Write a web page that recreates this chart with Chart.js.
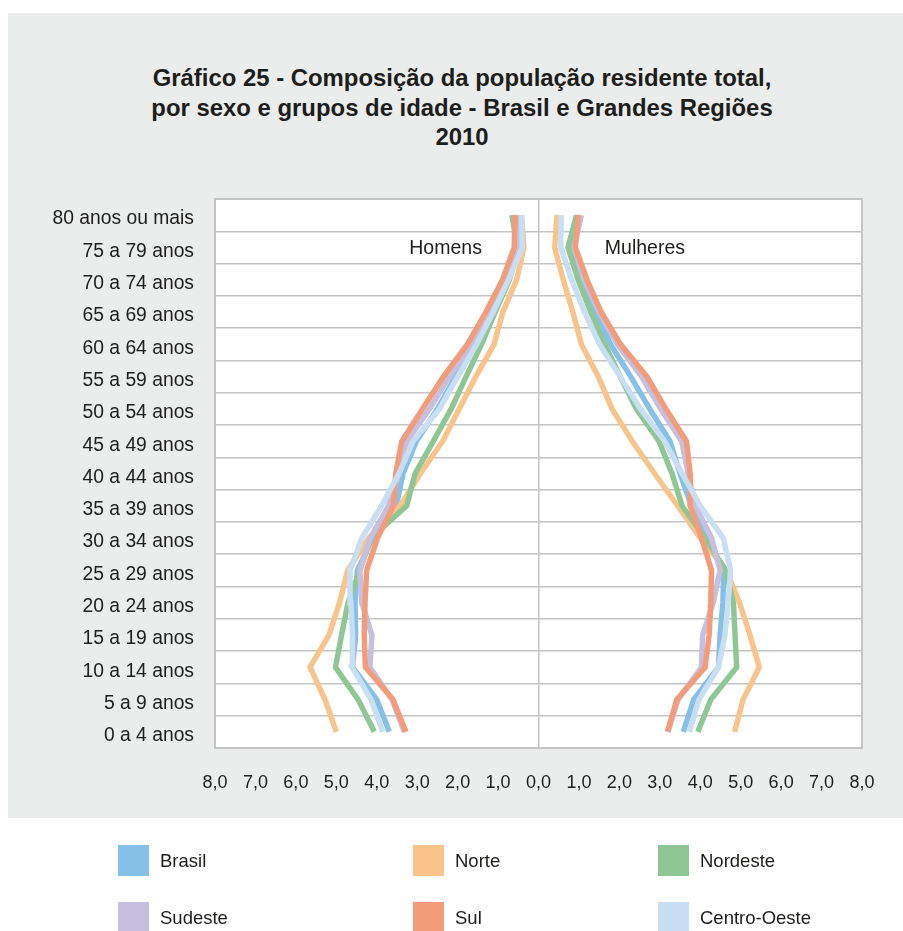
<!DOCTYPE html>
<html lang="pt-BR">
<head>
<meta charset="utf-8">
<script src="https://cdn.jsdelivr.net/npm/chart.js@4/dist/chart.umd.min.js"></script>
<style>
  html, body { margin: 0; padding: 0; background: #ffffff; }
  body { width: 903px; height: 931px; position: relative; overflow: hidden; font-family: "Liberation Sans", Arial, sans-serif; color: #1d1d1b; }
  #panel { position: absolute; left: 8px; top: 13px; width: 895px; height: 805px; background: #ebecec; }
  #title { position: absolute; left: 142px; width: 640px; top: 63px; text-align: center; font-weight: bold; font-size: 23.9px; line-height: 29.5px; white-space: nowrap; }
  #wrap { position: absolute; left: 0; top: 0; width: 903px; height: 931px; }
  .leg { position: absolute; display: flex; align-items: center; font-size: 18.5px; white-space: nowrap; }
  .leg span.box { display: inline-block; width: 31px; height: 31px; margin-right: 11px; }
</style>
</head>
<body>
<div id="panel"></div>
<div id="title"></div>
<div id="wrap"><canvas id="c" width="903" height="931"></canvas></div>
<div id="legend"></div>
<script>
// ---- data (percent of total population) ----
const titleLines = [
  "Gráfico 25 - Composição da população residente total,",
  "por sexo e grupos de idade - Brasil e Grandes Regiões",
  "2010"
];
const ageGroups = [
  "0 a 4 anos", "5 a 9 anos", "10 a 14 anos", "15 a 19 anos", "20 a 24 anos",
  "25 a 29 anos", "30 a 34 anos", "35 a 39 anos", "40 a 44 anos", "45 a 49 anos",
  "50 a 54 anos", "55 a 59 anos", "60 a 64 anos", "65 a 69 anos", "70 a 74 anos",
  "75 a 79 anos", "80 anos ou mais"
];
const regions = ["Brasil", "Norte", "Nordeste", "Sudeste", "Sul", "Centro-Oeste"];
const regionColors = ["#85c1e7", "#f9c48b", "#8fc794", "#c6bfdf", "#f29c7c", "#c8def2"];
const xTicks = [-8, -7, -6, -5, -4, -3, -2, -1, 0, 1, 2, 3, 4, 5, 6, 7, 8];

const homensBrasil      = [3.69, 4.00, 4.60, 4.52, 4.54, 4.48, 4.10, 3.52, 3.35, 3.02, 2.50, 2.05, 1.57, 1.16, 0.77, 0.50, 0.52];
const homensNorte       = [5.00, 5.28, 5.65, 5.18, 4.92, 4.72, 4.20, 3.42, 2.92, 2.37, 1.96, 1.55, 1.10, 0.88, 0.54, 0.36, 0.42];
const homensNordeste    = [4.06, 4.46, 5.02, 4.87, 4.71, 4.42, 4.14, 3.26, 3.05, 2.60, 2.16, 1.79, 1.41, 1.07, 0.72, 0.52, 0.66];
const homensSudeste     = [3.32, 3.62, 4.17, 4.12, 4.37, 4.42, 4.16, 3.71, 3.45, 3.25, 2.70, 2.20, 1.66, 1.24, 0.82, 0.52, 0.55];
const homensSul         = [3.28, 3.60, 4.28, 4.31, 4.29, 4.25, 3.98, 3.59, 3.53, 3.38, 2.87, 2.35, 1.76, 1.30, 0.89, 0.60, 0.58];
const homensCentroOeste = [3.85, 4.14, 4.61, 4.60, 4.64, 4.66, 4.37, 3.88, 3.45, 3.10, 2.45, 2.00, 1.53, 1.12, 0.74, 0.40, 0.42];

const mulheresBrasil      = [3.58, 3.84, 4.45, 4.49, 4.56, 4.58, 4.14, 3.78, 3.50, 3.25, 2.75, 2.28, 1.78, 1.42, 1.08, 0.84, 1.00];
const mulheresNorte       = [4.85, 5.06, 5.46, 5.23, 4.97, 4.65, 4.00, 3.44, 2.87, 2.32, 1.82, 1.48, 1.06, 0.85, 0.61, 0.40, 0.46];
const mulheresNordeste    = [3.94, 4.26, 4.90, 4.86, 4.82, 4.63, 4.12, 3.55, 3.30, 2.98, 2.42, 2.02, 1.64, 1.29, 0.98, 0.73, 0.94];
const mulheresSudeste     = [3.20, 3.45, 4.03, 4.06, 4.32, 4.49, 4.28, 3.88, 3.70, 3.54, 3.02, 2.55, 1.95, 1.50, 1.13, 0.88, 1.06];
const mulheresSul         = [3.19, 3.42, 4.12, 4.22, 4.26, 4.28, 4.03, 3.75, 3.75, 3.66, 3.15, 2.68, 2.03, 1.55, 1.20, 0.91, 0.99];
const mulheresCentroOeste = [3.73, 3.97, 4.45, 4.61, 4.69, 4.75, 4.57, 4.00, 3.55, 3.12, 2.52, 2.02, 1.51, 1.14, 0.82, 0.55, 0.56];

const homens   = [homensBrasil, homensNorte, homensNordeste, homensSudeste, homensSul, homensCentroOeste];
const mulheres = [mulheresBrasil, mulheresNorte, mulheresNordeste, mulheresSudeste, mulheresSul, mulheresCentroOeste];

// ---- title & legend (HTML text) ----
document.getElementById('title').innerHTML = titleLines.map(t => '<div>' + t + '</div>').join('');
const legendPos = [[118, 845], [413, 845], [658, 845], [118, 902], [413, 902], [658, 902]];
const legendEl = document.getElementById('legend');
regions.forEach((r, i) => {
  const d = document.createElement('div');
  d.className = 'leg';
  d.style.left = legendPos[i][0] + 'px';
  d.style.top = legendPos[i][1] + 'px';
  d.innerHTML = '<span class="box" style="background:' + regionColors[i] + '"></span><span>' + r + '</span>';
  legendEl.appendChild(d);
});

// ---- chart ----
const gridColor = '#c4c4c4';
const datasets = [];
regions.forEach((r, i) => {
  const common = {
    borderColor: regionColors[i], backgroundColor: regionColors[i],
    borderWidth: 5.5, pointRadius: 0, tension: 0, fill: false,
    borderJoinStyle: 'miter', borderCapStyle: 'butt',
    order: regions.length - 1 - i
  };
  datasets.push(Object.assign({ label: r + ' - Homens', data: homens[i].map(v => -v) }, common));
  datasets.push(Object.assign({ label: r + ' - Mulheres', data: mulheres[i].slice() }, common));
});

const bgPlugin = {
  id: 'bg',
  beforeDraw(chart) {
    const a = chart.chartArea, ctx = chart.ctx;
    ctx.save(); ctx.fillStyle = '#ffffff';
    ctx.fillRect(a.left, a.top, a.right - a.left, a.bottom - a.top);
    ctx.restore();
  },
  beforeDatasetsDraw(chart) {
    const a = chart.chartArea, ctx = chart.ctx;
    ctx.save(); ctx.strokeStyle = gridColor; ctx.lineWidth = 2;
    ctx.strokeRect(a.left, a.top, a.right - a.left, a.bottom - a.top);
    ctx.restore();
  },
  afterDatasetsDraw(chart) {
    const ctx = chart.ctx, xs = chart.scales.x, ys = chart.scales.y;
    const yi = ys.getPixelForValue(ageGroups.indexOf("75 a 79 anos")) + 7;
    ctx.save();
    ctx.fillStyle = '#1d1d1b';
    ctx.font = '19.5px "Liberation Sans", Arial, sans-serif';
    ctx.textBaseline = 'alphabetic';
    ctx.textAlign = 'right';
    ctx.fillText('Homens', xs.getPixelForValue(-1.4), yi);
    ctx.textAlign = 'left';
    ctx.fillText('Mulheres', xs.getPixelForValue(1.64), yi);
    ctx.restore();
  }
};

new Chart(document.getElementById('c'), {
  type: 'line',
  data: { labels: ageGroups, datasets: datasets },
  options: {
    indexAxis: 'y',
    responsive: false,
    animation: false,
    layout: { padding: { top: 199, right: 41, bottom: 113, left: 0 } },
    plugins: { legend: { display: false }, title: { display: false }, tooltip: { enabled: false } },
    scales: {
      x: {
        type: 'linear', min: -8, max: 8,
        afterBuildTicks(scale) { scale.ticks = xTicks.map(v => ({ value: v })); },
        afterFit(scale) { scale.height = 70; },
        ticks: {
          color: '#1d1d1b', padding: 24,
          font: { family: '"Liberation Sans", Arial, sans-serif', size: 18 },
          callback: v => Math.abs(v).toFixed(1).replace('.', ',')
        },
        grid: {
          drawTicks: false, lineWidth: 1.5,
          color: ctx => (ctx.tick && ctx.tick.value === 0) ? gridColor : 'rgba(0,0,0,0)'
        },
        border: { display: false }
      },
      y: {
        type: 'category', reverse: true, offset: true,
        afterFit(scale) { scale.width = 215; },
        ticks: {
          color: '#1d1d1b', padding: 21, labelOffset: 4,
          font: { family: '"Liberation Sans", Arial, sans-serif', size: 19.3 }
        },
        grid: { offset: true, drawTicks: false, color: gridColor, lineWidth: 1.5 },
        border: { display: false }
      }
    }
  },
  plugins: [bgPlugin]
});
</script>
</body>
</html>
